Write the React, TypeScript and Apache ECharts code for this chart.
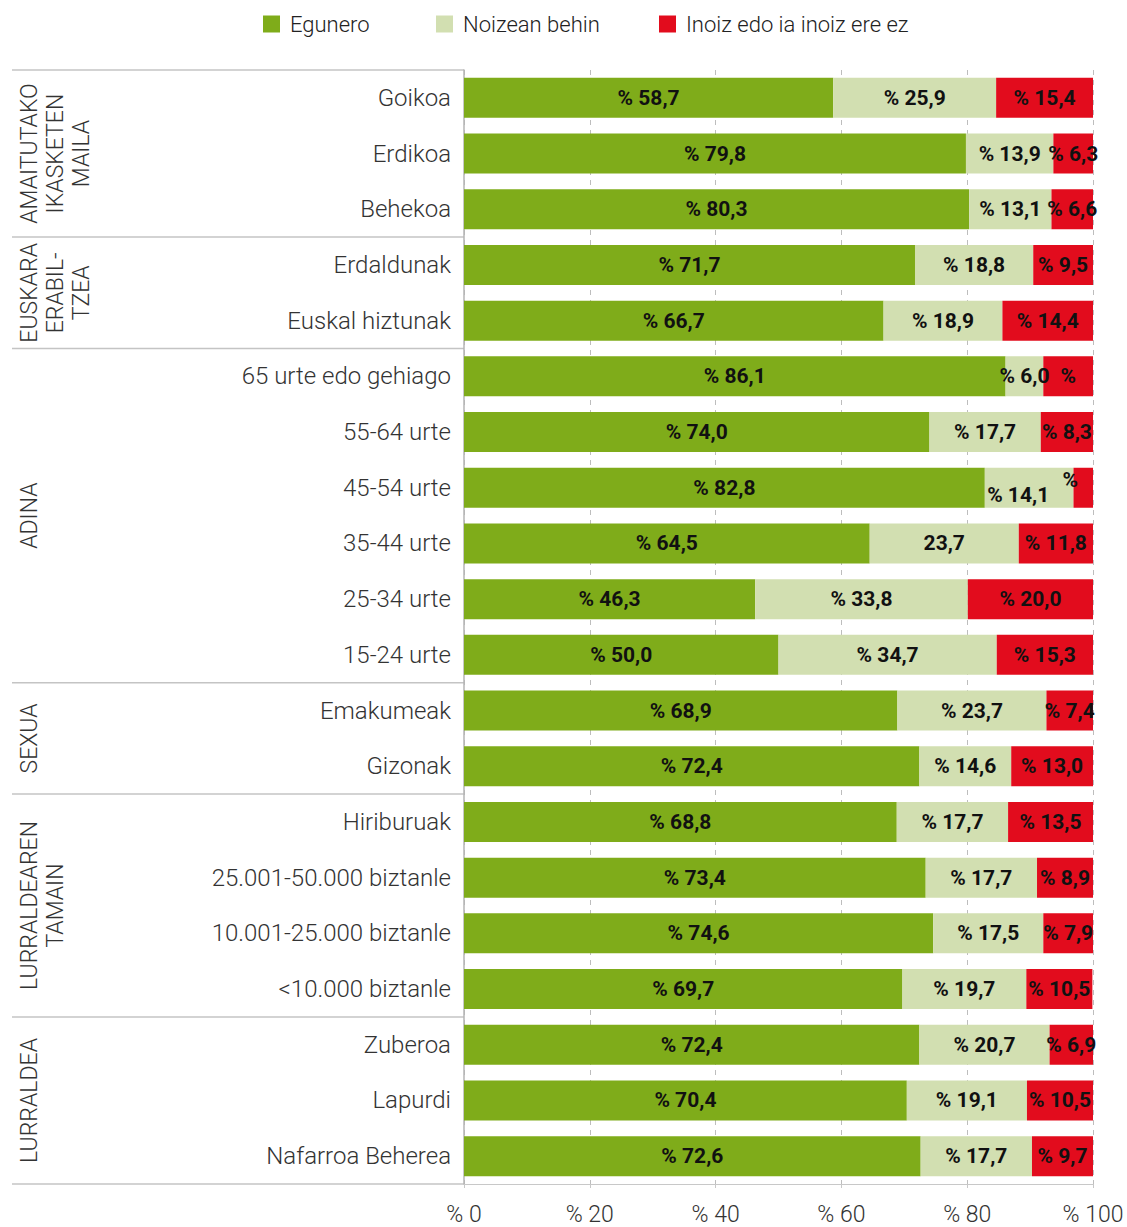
import React, { useEffect, useRef } from "react";
import * as echarts from "echarts";

const categories = [
  "Goikoa", "Erdikoa", "Behekoa",
  "Erdaldunak", "Euskal hiztunak",
  "65 urte edo gehiago", "55-64 urte", "45-54 urte", "35-44 urte", "25-34 urte", "15-24 urte",
  "Emakumeak", "Gizonak",
  "Hiriburuak", "25.001-50.000 biztanle", "10.001-25.000 biztanle", "<10.000 biztanle",
  "Zuberoa", "Lapurdi", "Nafarroa Beherea",
];
const egunero = [58.7, 79.8, 80.3, 71.7, 66.7, 86.1, 74.0, 82.8, 64.5, 46.3, 50.0, 68.9, 72.4, 68.8, 73.4, 74.6, 69.7, 72.4, 70.4, 72.6];
const noizean = [25.9, 13.9, 13.1, 18.8, 18.9, 6.0, 17.7, 14.1, 23.7, 33.8, 34.7, 23.7, 14.6, 17.7, 17.7, 17.5, 19.7, 20.7, 19.1, 17.7];
const inoiz = [15.4, 6.3, 6.6, 9.5, 14.4, 7.9, 8.3, 3.1, 11.8, 20.0, 15.3, 7.4, 13.0, 13.5, 8.9, 7.9, 10.5, 6.9, 10.5, 9.7];

const seriesNames = ["Egunero", "Noizean behin", "Inoiz edo ia inoiz ere ez"];
const xTicks = [0, 20, 40, 60, 80, 100];

const groupNames = ["AMAITUTAKO\nIKASKETEN\nMAILA", "EUSKARA\nERABIL-\nTZEA", "ADINA", "SEXUA", "LURRALDEAREN\nTAMAIN", "LURRALDEA"];
const groupSizes = [3, 2, 6, 2, 4, 3];

// label text overrides as seen in the reference (index -> text)
const noizeanLabelText: Record<number, string> = { 8: "23,7" };
const inoizLabelText: Record<number, string> = { 5: "%", 7: "%" };
// label nudges (index -> [dx, dy])
const noizeanLabelNudge: Record<number, number[]> = { 7: [-11, 7] };
const inoizLabelNudge: Record<number, number[]> = { 7: [-13, -8] };

const COLORS = ["#7fac1a", "#d2dfb1", "#e20c1d"];
const legendLeft = [258, 431, 654];

const fmt = (v: number) => "% " + v.toFixed(1).replace(".", ",");

const valueFont = "Roboto, 'Noto Sans', sans-serif";
const baseFont = "Roboto, 'Noto Sans', sans-serif";

function buildData(values: number[], texts: Record<number, string>) {
  return values.map((v, i) => {
    const item: any = { value: v };
    if (texts[i] !== undefined) {
      const t = texts[i];
      item.label = { formatter: () => t };
    }
    return item;
  });
}

export default function App() {
  const ref = useRef<HTMLDivElement>(null);
  useEffect(() => {
    document.body.style.margin = "0";
    const chart = echarts.init(ref.current!, null, { renderer: "svg" });
    const labelStyle = {
      show: true,
      position: "inside",
      fontFamily: valueFont,
      fontWeight: "bold",
      fontSize: 21,
      color: "#111",
      formatter: (p: any) => fmt(p.value),
    };
    const dataSets = [
      buildData(egunero, {}),
      buildData(noizean, noizeanLabelText),
      buildData(inoiz, inoizLabelText),
    ];
    const nudges: Record<number, number[]>[] = [{}, noizeanLabelNudge, inoizLabelNudge];
    const option: any = {
      animation: false,
      legend: seriesNames.map((name, k) => ({
        top: 8,
        left: legendLeft[k],
        icon: "rect",
        itemWidth: 17,
        itemHeight: 17,
        textStyle: { fontFamily: baseFont, fontSize: 22, fontWeight: 300, color: "#222", padding: [0, 0, 0, 5] },
        data: [name],
      })),
      grid: { left: 464, right: 34, top: 70, bottom: 43, containLabel: false },
      xAxis: {
        type: "value",
        min: 0,
        max: 100,
        interval: 20,
        axisLine: { show: true, lineStyle: { color: "#c8c8c8", width: 1 } },
        axisTick: { show: true, length: 4, lineStyle: { color: "#c8c8c8" } },
        splitLine: { show: true, lineStyle: { color: "#bdbdbd", type: [5, 5], width: 1 } },
        axisLabel: {
          margin: 19,
          fontFamily: baseFont,
          fontWeight: 300,
          fontSize: 23,
          color: "#333",
          formatter: (v: number) => (xTicks.includes(v) ? "% " + v : ""),
        },
      },
      yAxis: {
        type: "category",
        inverse: true,
        data: categories,
        axisLine: { show: true, lineStyle: { color: "#b4b4b4", width: 1.5 } },
        axisTick: { show: false },
        axisLabel: {
          margin: 13,
          fontFamily: baseFont,
          fontWeight: 300,
          fontSize: 24,
          color: "#333",
        },
      },
      series: seriesNames.map((name, k) => ({
        name,
        type: "bar",
        stack: "total",
        barWidth: 40,
        itemStyle: { color: COLORS[k] },
        label: labelStyle,
        labelLayout: (params: any) => {
          const n = nudges[k][params.dataIndex];
          return n ? { dx: n[0], dy: n[1], hideOverlap: false } : { hideOverlap: false };
        },
        data: dataSets[k],
      })),
    };
    chart.setOption(option);

    const yc = (i: number) => chart.convertToPixel({ yAxisIndex: 0 }, categories[i]) as number;
    const band = yc(1) - yc(0);
    const x0 = chart.convertToPixel({ xAxisIndex: 0 }, 0) as number;
    const graphics: any[] = [];
    let start = 0;
    const boundary = (i: number) => (i < categories.length ? yc(i) - band / 2 : yc(categories.length - 1) + band / 2);
    graphics.push({
      type: "line",
      shape: { x1: 12, y1: boundary(0), x2: x0, y2: boundary(0) },
      style: { stroke: "#c4c4c4", lineWidth: 1.5 },
    });
    groupSizes.forEach((n, g) => {
      const end = start + n;
      const yTop = boundary(start);
      const yBot = boundary(end);
      graphics.push({
        type: "line",
        shape: { x1: 12, y1: yBot, x2: x0, y2: yBot },
        style: { stroke: "#c4c4c4", lineWidth: 1.5 },
      });
      graphics.push({
        type: "text",
        x: 16,
        y: (yTop + yBot) / 2,
        rotation: Math.PI / 2,
        style: {
          text: groupNames[g],
          fontFamily: baseFont,
          fontWeight: 300,
          fontSize: 23,
          lineHeight: 26,
          fill: "#333",
          align: "center",
          verticalAlign: "top",
        },
      });
      start = end;
    });
    chart.setOption({ graphic: graphics });

    return () => chart.dispose();
  }, []);
  return <div ref={ref} style={{ width: 1127, height: 1227 }} />;
}
